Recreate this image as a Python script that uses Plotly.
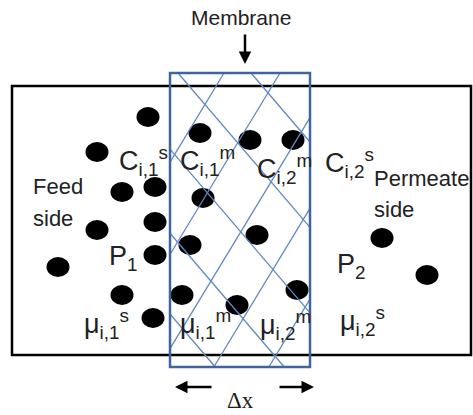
import plotly.graph_objects as go

# particles (centre x, centre y in picture pixels)
ball_x = [148, 97, 200, 122, 155, 203, 155, 97, 155, 190, 58, 122, 182, 153,
          250, 293, 257, 237, 297, 382, 427]
ball_y = [117, 152, 133, 192, 187, 198, 222, 230, 255, 245, 267, 295, 295, 318,
          140, 140, 235, 305, 290, 238, 275]

# labels: text, left x, baseline y
labels = [
    ("C<sub>i,1</sub><sup>s</sup>", 117, 176),
    ("C<sub>i,1</sub><sup>m</sup>", 178, 176),
    ("C<sub>i,2</sub><sup>m</sup>", 255, 184),
    ("C<sub>i,2</sub><sup>s</sup>", 323, 178),
    ("P<sub>1</sub>", 107, 271),
    ("P<sub>2</sub>", 335, 279),
    ("\u03bc<sub>i,1</sub><sup>s</sup>", 82, 339),
    ("\u03bc<sub>i,1</sub><sup>m</sup>", 178, 339),
    ("\u03bc<sub>i,2</sub><sup>m</sup>", 258, 340),
    ("\u03bc<sub>i,2</sub><sup>s</sup>", 338, 336),
]
words = [("Feed", 31, 196), ("side", 31, 228), ("Permeate", 372, 188), ("side", 372, 219)]

# hatch line intercepts along top edge of membrane
hatch_down = [251, 178, 105, 33, -36]
hatch_up = [224, 280, 337, 392, 447]

L, R, T, B = 170, 310, 73, 367
s1, s2 = 1.17, 1.65

fig = go.Figure()
fig.add_trace(go.Scatter(x=[0, 473], y=[0, 415], mode="markers",
                         marker=dict(opacity=0), hoverinfo="skip"))

shapes = []
# outer container
shapes.append(dict(type="rect", x0=12, y0=86, x1=471, y1=355,
                   line=dict(color="black", width=2.5)))
# particles
for bx, by in zip(ball_x, ball_y):
    shapes.append(dict(type="circle", x0=bx - 11.5, x1=bx + 11.5, y0=by - 10, y1=by + 10,
                       fillcolor="black", line=dict(color="black", width=0)))
# hatch lines
for x0 in hatch_down:
    ya = max(T, T + (L - x0) * s1)
    yb = min(B, T + (R - x0) * s1)
    if ya < yb:
        shapes.append(dict(type="line", x0=x0 + (ya - T) / s1, y0=ya,
                           x1=x0 + (yb - T) / s1, y1=yb,
                           line=dict(color="#6089c4", width=1.3)))
for x0 in hatch_up:
    ya = max(T, T + (x0 - R) * s2)
    yb = min(B, T + (x0 - L) * s2)
    if ya < yb:
        shapes.append(dict(type="line", x0=x0 - (ya - T) / s2, y0=ya,
                           x1=x0 - (yb - T) / s2, y1=yb,
                           line=dict(color="#6089c4", width=1.3)))
# membrane
shapes.append(dict(type="rect", x0=L, y0=T, x1=R, y1=B,
                   line=dict(color="#41659b", width=2.5)))

annotations = []
for txt, lx, base in labels:
    annotations.append(dict(x=lx, y=base + 6, text=txt, showarrow=False,
                            xanchor="left", yanchor="bottom",
                            font=dict(family="Liberation Sans", size=27, color="#222")))
for txt, lx, base in words:
    annotations.append(dict(x=lx, y=base + 5, text=txt, showarrow=False,
                            xanchor="left", yanchor="bottom",
                            font=dict(family="Liberation Sans", size=22, color="#222")))
annotations.append(dict(x=241, y=17, text="Membrane", showarrow=False,
                        font=dict(family="Liberation Sans", size=21, color="#222")))
annotations.append(dict(x=240, y=400, text="\u0394x", showarrow=False,
                        font=dict(family="Liberation Serif", size=23, color="#222")))
arrow = dict(showarrow=True, text="", axref="x", ayref="y", arrowhead=2,
             arrowsize=1, arrowwidth=2.5, arrowcolor="black")
annotations.append(dict(x=245, y=64, ax=245, ay=33, **arrow))
annotations.append(dict(x=175, y=387, ax=213, ay=387, **arrow))
annotations.append(dict(x=314, y=387, ax=278, ay=387, **arrow))

fig.update_layout(
    width=473, height=415,
    margin=dict(l=0, r=0, t=0, b=0),
    paper_bgcolor="white", plot_bgcolor="white",
    showlegend=False,
    xaxis=dict(range=[0, 473], visible=False, fixedrange=True),
    yaxis=dict(range=[415, 0], visible=False, fixedrange=True),
    shapes=shapes,
    annotations=annotations,
)

fig.write_html("out.html", config={"displayModeBar": False},
               post_script="document.body.style.margin='0px';")
